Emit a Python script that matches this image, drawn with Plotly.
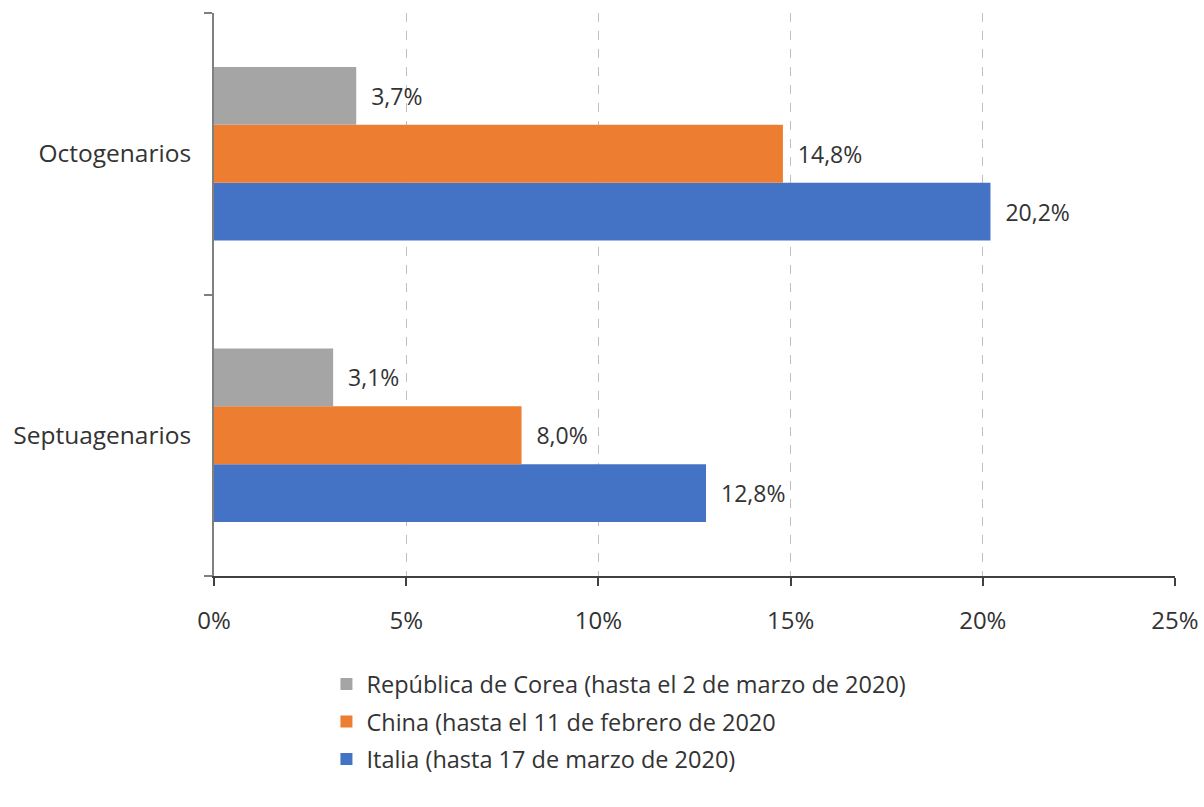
import plotly.graph_objects as go

categories = ["Septuagenarios", "Octogenarios"]
series_names = [
    "Italia (hasta 17 de marzo de 2020)",
    "China (hasta el 11 de febrero de 2020",
    "República de Corea (hasta el 2 de marzo de 2020)",
]
italia = [12.8, 20.2]
china = [8.0, 14.8]
corea = [3.1, 3.7]
colors = ["#4472C4", "#ED7D31", "#A5A5A5"]
legend_ranks = [3, 2, 1]
tick_vals = [0, 5, 10, 15, 20, 25]
tick_text = ["0%", "5%", "10%", "15%", "20%", "25%"]

def fmt(v):
    return "  " + f"{v:.1f}".replace(".", ",") + "%"

fig = go.Figure()
for i, (name, vals, col, rk) in enumerate(zip(series_names, [italia, china, corea], colors, legend_ranks)):
    fig.add_trace(go.Bar(
        y=categories, x=vals, name=name, orientation="h",
        marker=dict(color=col, line=dict(width=0)),
        text=[fmt(v) for v in vals], textposition="outside",
        textfont=dict(size=23, color="#333333"),
        cliponaxis=False, legendgroup=f"g{i}", legendrank=rk,
    ))

font_family = "Open Sans"
fig.update_layout(
    width=1204, height=807,
    margin=dict(l=214, r=29, t=13, b=231, autoexpand=False),
    paper_bgcolor="white", plot_bgcolor="white",
    barmode="group", bargap=0.384, bargroupgap=0,
    font=dict(family=font_family, size=23, color="#333333"),
    showlegend=True,
    legend=dict(
        traceorder="grouped", tracegroupgap=4, orientation="v",
        x=0.117, xanchor="left", y=-0.153, yanchor="top",
        font=dict(size=23.5, color="#333333"),
        itemwidth=30,
    ),
    xaxis=dict(
        range=[0, 25], tickvals=tick_vals, ticktext=tick_text,
        showgrid=True, gridcolor="#BFBFBF", griddash="dash", gridwidth=1,
        showline=True, linecolor="#404040", linewidth=2,
        ticks="outside", ticklen=8, tickcolor="#404040", tickwidth=2,
        ticklabelstandoff=14, zeroline=False, automargin=False,
        tickfont=dict(size=24),
    ),
    yaxis=dict(
        categoryorder="array", categoryarray=categories,
        showline=True, linecolor="#808080", linewidth=2,
        ticks="outside", ticklen=8, tickcolor="#808080", tickwidth=2,
        tickson="boundaries", ticklabelstandoff=16, automargin=False,
        showgrid=False, tickfont=dict(size=24.5),
    ),
)
fig.write_html("out.html", config={"displayModeBar": False},
               post_script="document.body.style.margin='0';")
